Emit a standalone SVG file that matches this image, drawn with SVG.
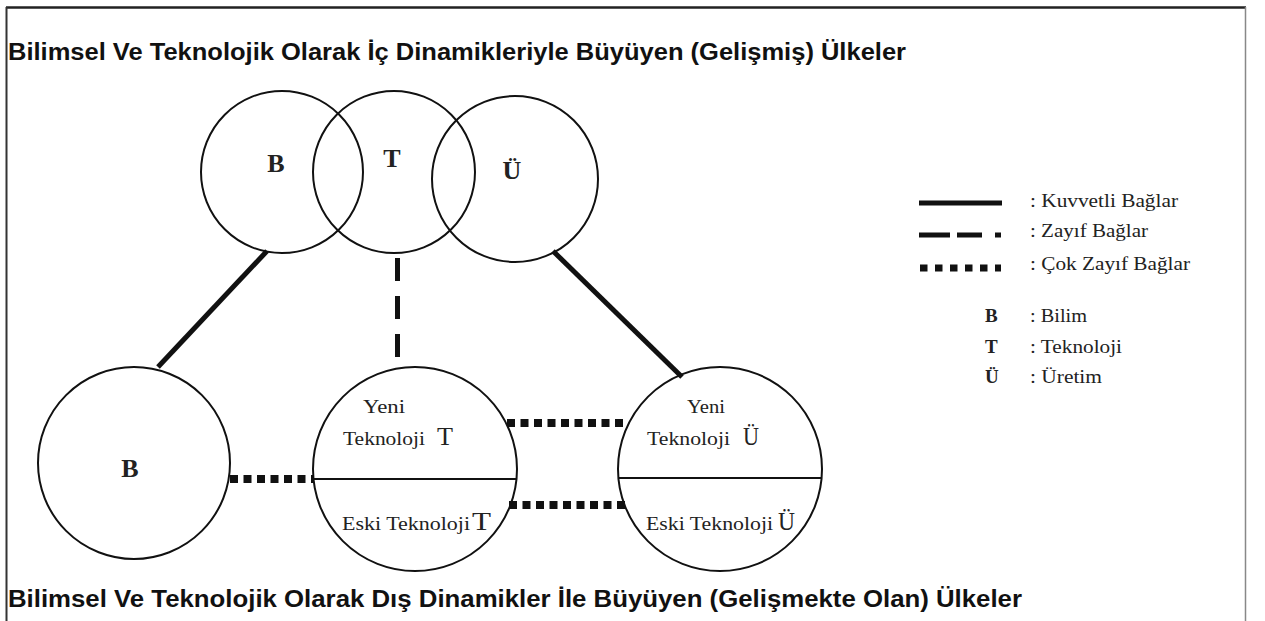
<svg xmlns="http://www.w3.org/2000/svg" width="1265" height="621" viewBox="0 0 1265 621">
<style>
.title{font-family:"Liberation Sans",Arial,sans-serif;font-weight:bold;font-size:23px;fill:#111}
.node{fill:none;stroke:#111;stroke-width:2}
.big{font-family:"Liberation Serif","Times New Roman",serif;font-weight:bold;font-size:26px;fill:#222;text-anchor:middle}
.lbl{font-family:"Liberation Serif","Times New Roman",serif;font-size:19px;fill:#222}
.lbig{font-family:"Liberation Serif","Times New Roman",serif;font-size:25px;fill:#222}
.leg{font-family:"Liberation Serif","Times New Roman",serif;font-size:18px;fill:#222}
.legb{font-family:"Liberation Serif","Times New Roman",serif;font-size:19px;font-weight:bold;fill:#222}
.strong{stroke:#111;stroke-width:5;fill:none}
.weak{stroke:#111;stroke-width:5;fill:none;stroke-dasharray:23 15}
.vweak{stroke:#111;stroke-width:8;fill:none;stroke-dasharray:8 5.5}
</style>
<rect x="0" y="0" width="1265" height="621" fill="#fff"/>
<g id="frame">
<line x1="6" y1="7.5" x2="1246" y2="7.5" stroke="#222" stroke-width="2.5"/>
<line x1="6.5" y1="7" x2="6.5" y2="621" stroke="#333" stroke-width="2"/>
<line x1="1245.5" y1="7" x2="1245.5" y2="621" stroke="#888" stroke-width="1.5"/>
</g>
<g id="titles">
<text class="title" x="8" y="60" textLength="898" lengthAdjust="spacingAndGlyphs">Bilimsel Ve Teknolojik Olarak İç Dinamikleriyle Büyüyen (Gelişmiş) Ülkeler</text>
<text class="title" x="8" y="607" textLength="1014" lengthAdjust="spacingAndGlyphs">Bilimsel Ve Teknolojik Olarak Dış Dinamikler İle Büyüyen (Gelişmekte Olan) Ülkeler</text>
</g>
<g id="connectors">
<line class="strong" x1="267" y1="251" x2="158" y2="367"/>
<line class="strong" x1="553" y1="251" x2="682" y2="377"/>
<line class="weak" x1="397.5" y1="258" x2="397.5" y2="357"/>
<line class="vweak" x1="230" y1="479" x2="313" y2="479"/>
<line class="vweak" x1="507" y1="423" x2="628" y2="423"/>
<line class="vweak" x1="509" y1="505" x2="626" y2="505"/>
</g>
<g id="top-B">
<circle class="node" cx="282" cy="172" r="81"/>
<text class="big" x="276" y="172">B</text>
</g>
<g id="top-T">
<circle class="node" cx="394" cy="172" r="81"/>
<text class="big" x="392" y="167">T</text>
</g>
<g id="top-U">
<circle class="node" cx="515" cy="179" r="83"/>
<text class="big" x="512" y="179">Ü</text>
</g>
<g id="bottom-B">
<circle class="node" cx="134" cy="463" r="96"/>
<text class="big" x="130" y="477">B</text>
</g>
<g id="bottom-T">
<circle class="node" cx="415" cy="469" r="102"/>
<line class="node" x1="313" y1="479" x2="517" y2="479"/>
<text class="lbl" x="363" y="413" textLength="42" lengthAdjust="spacingAndGlyphs">Yeni</text>
<text class="lbl" x="343" y="445" textLength="82" lengthAdjust="spacingAndGlyphs">Teknoloji</text>
<text class="lbig" x="437" y="445" textLength="16" lengthAdjust="spacingAndGlyphs">T</text>
<text class="lbl" x="342" y="530" textLength="128" lengthAdjust="spacingAndGlyphs">Eski Teknoloji</text>
<text class="lbig" x="472" y="530" textLength="19" lengthAdjust="spacingAndGlyphs">T</text>
</g>
<g id="bottom-U">
<circle class="node" cx="720" cy="469" r="102"/>
<line class="node" x1="618" y1="478" x2="822" y2="478"/>
<text class="lbl" x="687" y="413" textLength="38" lengthAdjust="spacingAndGlyphs">Yeni</text>
<text class="lbl" x="647" y="445" textLength="83" lengthAdjust="spacingAndGlyphs">Teknoloji</text>
<text class="lbig" x="743" y="445" textLength="16" lengthAdjust="spacingAndGlyphs">Ü</text>
<text class="lbl" x="646" y="530" textLength="127" lengthAdjust="spacingAndGlyphs">Eski Teknoloji</text>
<text class="lbig" x="778" y="530" textLength="17" lengthAdjust="spacingAndGlyphs">Ü</text>
</g>
<g id="legend">
<line x1="919" y1="203" x2="1002" y2="203" stroke="#111" stroke-width="5"/>
<text class="leg" x="1030" y="207" textLength="148" lengthAdjust="spacingAndGlyphs">: Kuvvetli Bağlar</text>
<line x1="919" y1="235" x2="1001" y2="235" stroke="#111" stroke-width="5" stroke-dasharray="31 7 25 13"/>
<text class="leg" x="1030" y="237" textLength="118" lengthAdjust="spacingAndGlyphs">: Zayıf Bağlar</text>
<line x1="920" y1="268" x2="1001" y2="268" stroke="#111" stroke-width="7" stroke-dasharray="7.5 7.5"/>
<text class="leg" x="1030" y="270" textLength="160" lengthAdjust="spacingAndGlyphs">: Çok Zayıf Bağlar</text>
<text class="legb" x="985" y="322">B</text>
<text class="leg" x="1030" y="322" textLength="57" lengthAdjust="spacingAndGlyphs">: Bilim</text>
<text class="legb" x="985" y="353">T</text>
<text class="leg" x="1030" y="353" textLength="92" lengthAdjust="spacingAndGlyphs">: Teknoloji</text>
<text class="legb" x="985" y="383">Ü</text>
<text class="leg" x="1030" y="383" textLength="72" lengthAdjust="spacingAndGlyphs">: Üretim</text>
</g>
</svg>
